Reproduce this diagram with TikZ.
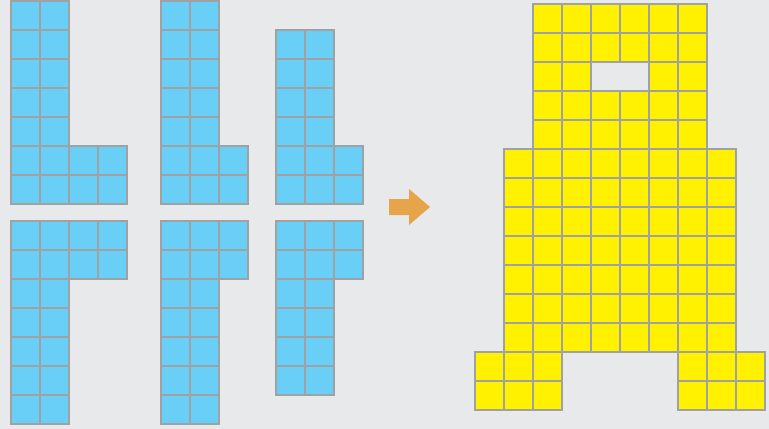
\documentclass[tikz,border=0pt]{standalone}
\usepackage{xcolor}
\usepackage{tikz}
\definecolor{bgray}{HTML}{E8E9EB}
\definecolor{lgray}{HTML}{A0A1A3}
\definecolor{tileblue}{HTML}{6ACFF6}
\definecolor{tileyellow}{HTML}{FFF100}
\definecolor{arroworange}{HTML}{E6A54A}
\tikzset{
  bluecell/.style={fill=tileblue, draw=lgray, line width=2.4pt},
  yellowcell/.style={fill=tileyellow, draw=lgray, line width=2.4pt}
}
% block of cells: [style]{left}{top}{columns}{rows}, in pixels
\newcommand{\drawtiles}[5][bluecell]{%
  \foreach \i in {1,...,#4}
    \foreach \j in {1,...,#5}
      \draw[#1] ({#2+(\i-1)*29},{#3+(\j-1)*29}) rectangle ++(29,29);}

\begin{document}
\begin{tikzpicture}[x=0.03cm, y=-0.03cm]
    \fill[bgray] (0,0) rectangle (769,429);
    \useasboundingbox (0,0) rectangle (769,429);
    % left pieces
    \drawtiles{11}{1}{2}{5}
    \drawtiles{11}{146}{4}{2}
    \drawtiles{11}{221}{4}{2}
    \drawtiles{11}{279}{2}{5}
    \drawtiles{161}{1}{2}{5}
    \drawtiles{161}{146}{3}{2}
    \drawtiles{161}{221}{3}{2}
    \drawtiles{161}{279}{2}{5}
    \drawtiles{276}{30}{2}{4}
    \drawtiles{276}{146}{3}{2}
    \drawtiles{276}{221}{3}{2}
    \drawtiles{276}{279}{2}{4}
    % arrow
    \fill[arroworange] (389,199) -- (409,199) -- (409,189) -- (430,207)
        -- (409,225) -- (409,215) -- (389,215) -- cycle;
    % assembled figure
    \drawtiles[yellowcell]{533}{4}{6}{2}
    \drawtiles[yellowcell]{533}{62}{2}{1}
    \drawtiles[yellowcell]{649}{62}{2}{1}
    \drawtiles[yellowcell]{533}{91}{6}{2}
    \drawtiles[yellowcell]{504}{149}{8}{7}
    \drawtiles[yellowcell]{475}{352}{3}{2}
    \drawtiles[yellowcell]{678}{352}{3}{2}
\end{tikzpicture}
\end{document}
